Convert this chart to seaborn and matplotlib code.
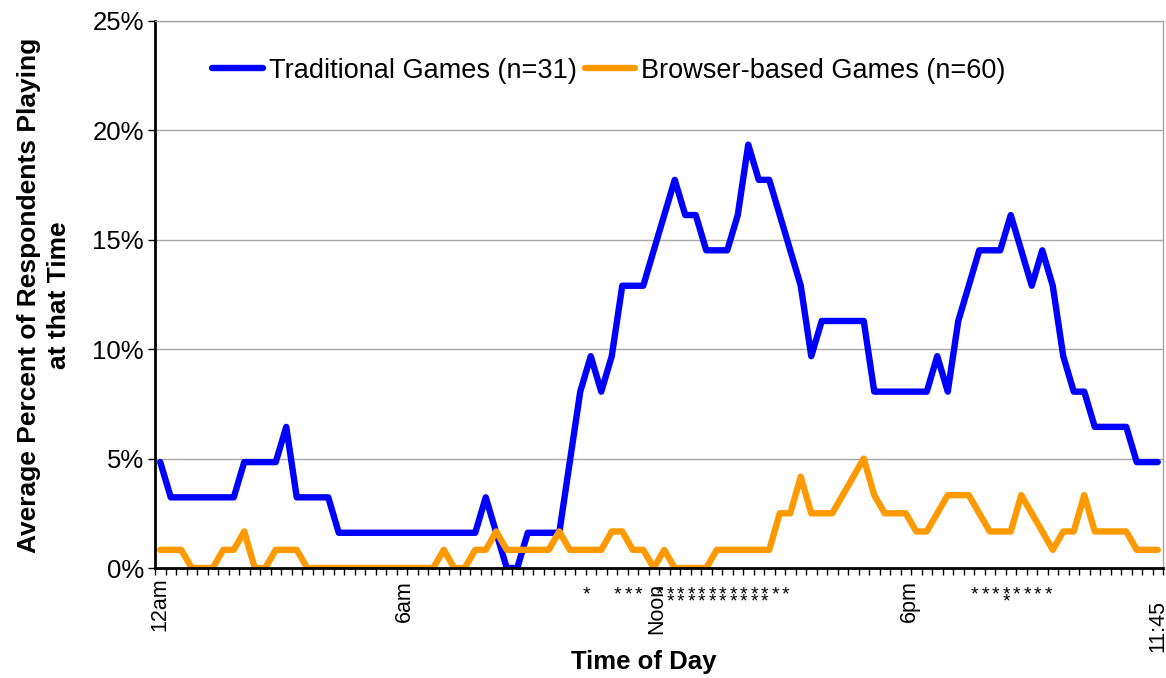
import matplotlib
matplotlib.use("Agg")
import matplotlib.pyplot as plt
import matplotlib.transforms as mtransforms
from matplotlib.ticker import FixedLocator
import seaborn as sns
import pandas as pd

# 15-minute slots over one day, 0 = 12am ... 95 = 11:45pm
tick_slots = [0, 24, 48, 72, 95]
tick_labels = ["12am", "6am", "Noon", "6pm", "11:45"]

series_names = ["Traditional Games (n=31)", "Browser-based Games (n=60)"]
series_colors = ["#0000FF", "#FF9900"]

traditional = [
    4.84, 3.23, 3.23, 3.23, 3.23, 3.23, 3.23, 3.23, 4.84, 4.84, 4.84, 4.84,
    6.45, 3.23, 3.23, 3.23, 3.23, 1.61, 1.61, 1.61, 1.61, 1.61, 1.61, 1.61,
    1.61, 1.61, 1.61, 1.61, 1.61, 1.61, 1.61, 3.23, 1.61, 0.00, 0.00, 1.61,
    1.61, 1.61, 1.61, 4.84, 8.06, 9.68, 8.06, 9.68, 12.90, 12.90, 12.90, 14.52,
    16.13, 17.74, 16.13, 16.13, 14.52, 14.52, 14.52, 16.13, 19.35, 17.74, 17.74, 16.13,
    14.52, 12.90, 9.68, 11.29, 11.29, 11.29, 11.29, 11.29, 8.06, 8.06, 8.06, 8.06,
    8.06, 8.06, 9.68, 8.06, 11.29, 12.90, 14.52, 14.52, 14.52, 16.13, 14.52, 12.90,
    14.52, 12.90, 9.68, 8.06, 8.06, 6.45, 6.45, 6.45, 6.45, 4.84, 4.84, 4.84,
]

browser = [
    0.83, 0.83, 0.83, 0.00, 0.00, 0.00, 0.83, 0.83, 1.67, 0.00, 0.00, 0.83,
    0.83, 0.83, 0.00, 0.00, 0.00, 0.00, 0.00, 0.00, 0.00, 0.00, 0.00, 0.00,
    0.00, 0.00, 0.00, 0.83, 0.00, 0.00, 0.83, 0.83, 1.67, 0.83, 0.83, 0.83,
    0.83, 0.83, 1.67, 0.83, 0.83, 0.83, 0.83, 1.67, 1.67, 0.83, 0.83, 0.00,
    0.83, 0.00, 0.00, 0.00, 0.00, 0.83, 0.83, 0.83, 0.83, 0.83, 0.83, 2.50,
    2.50, 4.17, 2.50, 2.50, 2.50, 3.33, 4.17, 5.00, 3.33, 2.50, 2.50, 2.50,
    1.67, 1.67, 2.50, 3.33, 3.33, 3.33, 2.50, 1.67, 1.67, 1.67, 3.33, 2.50,
    1.67, 0.83, 1.67, 1.67, 3.33, 1.67, 1.67, 1.67, 1.67, 0.83, 0.83, 0.83,
]

# significance markers under the axis (slot index)
single_star = [41, 44, 45, 46, 48, 49, 50, 51, 52, 53, 54, 55, 56, 57, 58, 59, 60,
               78, 79, 80, 81, 82, 83, 84, 85]
double_star = [49, 50, 51, 52, 53, 54, 55, 56, 57, 58, 81]

y_ticks = [0, 5, 10, 15, 20, 25]

df = pd.DataFrame({
    "slot": list(range(len(traditional))) * 2,
    "pct": traditional + browser,
    "series": [series_names[0]] * len(traditional) + [series_names[1]] * len(browser),
})

sns.set_style("white")
plt.rcParams["font.family"] = ["Liberation Sans", "DejaVu Sans"]
plt.rcParams["text.color"] = "black"
plt.rcParams["axes.labelcolor"] = "black"
plt.rcParams["xtick.color"] = "black"
plt.rcParams["ytick.color"] = "black"

fig = plt.figure(figsize=(11.66, 6.78), dpi=100)
ax = fig.add_axes([155 / 1166, 1 - 568 / 678, 1008 / 1166, 547 / 678])

sns.lineplot(data=df, x="slot", y="pct", hue="series", palette=series_colors,
             hue_order=series_names, linewidth=4.6, ax=ax, sort=False,
             solid_joinstyle="round", solid_capstyle="round", legend=True)

ax.set_xlim(-0.5, 95.5)
ax.set_ylim(0, 25)
ax.set_yticks(y_ticks)
ax.set_yticklabels([f"{v}%" for v in y_ticks], fontsize=18.5)
ax.yaxis.grid(True, color="#a6a6a6", linewidth=1)
ax.set_axisbelow(True)

ax.set_xticks(tick_slots)
ax.set_xticklabels(tick_labels, rotation=90, fontsize=15.5, va="top", ha="center")
ax.xaxis.set_minor_locator(FixedLocator([k - 0.5 for k in range(97)]))
ax.tick_params(axis="x", which="major", length=0, pad=9)
ax.tick_params(axis="x", which="minor", bottom=True, length=5, width=1, color="black")
ax.tick_params(axis="y", which="major", left=True, length=5, width=1, color="black", pad=3)

# nudge the hour labels the way the original sits them (pixels)
label_shift = [(0, 3), (-8, 0), (-8, -2), (-7, 0), (0, -20)]
for lab, (dx, dy) in zip(ax.get_xticklabels(), label_shift):
    lab.set_transform(lab.get_transform() + mtransforms.ScaledTranslation(dx / 100, dy / 100, fig.dpi_scale_trans))

for side in ["left", "bottom"]:
    ax.spines[side].set_color("black")
    ax.spines[side].set_linewidth(2)
for side in ["top", "right"]:
    ax.spines[side].set_color("#a6a6a6")
    ax.spines[side].set_linewidth(1)

ax.set_xlabel("")
ax.set_ylabel("")

# stars drawn below the axis, x in data units, y in axes units
trans = mtransforms.blended_transform_factory(ax.transData, ax.transAxes)
for s in single_star:
    ax.text(s - 0.45, -0.058, "*", transform=trans, ha="center", va="baseline",
            fontsize=14, clip_on=False)
for s in double_star:
    ax.text(s - 0.45, -0.071, "*", transform=trans, ha="center", va="baseline",
            fontsize=14, clip_on=False)

handles, labels = ax.get_legend_handles_labels()
for h in handles:
    h.set_linewidth(4.6)
ax.legend(handles, labels, loc="center left", bbox_to_anchor=(0.057, 0.909),
          ncol=2, frameon=False, fontsize=19.5, handlelength=1.85,
          handletextpad=0.22, columnspacing=0.3, borderpad=0, borderaxespad=0)

fig.text(644 / 1166, 1 - 662 / 678, "Time of Day", ha="center", va="center",
         fontsize=18.5, fontweight="bold")
fig.text(44 / 1166, 1 - 295 / 678, "Average Percent of Respondents Playing\nat that Time",
         ha="center", va="center", rotation=90, fontsize=19, fontweight="bold",
         linespacing=1.35, multialignment="center")

fig.savefig("out.png", dpi=100)
